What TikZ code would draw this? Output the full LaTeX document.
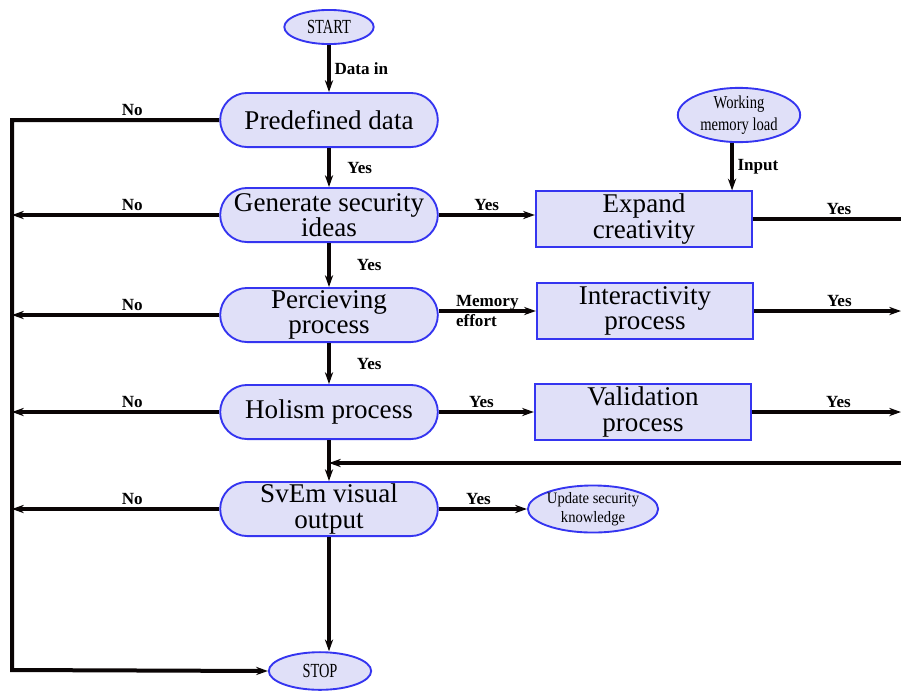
\documentclass[tikz,border=0pt]{standalone}
\usepackage{fontspec}
\setmainfont{Liberation Serif}
\usetikzlibrary{arrows.meta,shapes.geometric}
\definecolor{boxfill}{HTML}{E0E0F8}
\definecolor{boxline}{HTML}{3535F0}
\definecolor{flowline}{HTML}{0A0505}
\newcommand{\narrow}[2][0.72]{\scalebox{#1}[1]{#2}}

\begin{document}
\begin{tikzpicture}[x=0.85pt, y=-0.85pt,
  proc/.style={draw=boxline, fill=boxfill, line width=1.6pt, rounded corners=23pt,
    minimum width=185pt, minimum height=46pt, inner sep=0pt, align=center,
    font=\fontsize{23}{21.5}\selectfont},
  task/.style={draw=boxline, fill=boxfill, line width=1.6pt,
    minimum width=184pt, minimum height=47pt, inner sep=0pt, align=center,
    font=\fontsize{23}{21.5}\selectfont},
  term/.style={ellipse, draw=boxline, fill=boxfill, line width=1.6pt,
    inner sep=0pt, align=center},
  link/.style={draw=flowline, line width=3.4pt},
  flow/.style={link, -{Stealth[length=10pt,width=7pt]}},
  lbl/.style={font=\fontsize{14.5}{15}\selectfont\bfseries, inner sep=2pt}]
  \useasboundingbox (0,0) rectangle (902,692);

  % Main column
  \node[term, minimum width=76pt, minimum height=29pt,
    font=\fontsize{17}{17}\selectfont] (start) at (329,27) {\narrow{START}};
  \node[proc] (pre) at (329,120) {Predefined data};
  \node[proc] (gen) at (329,215) {Generate security\\ideas};
  \node[proc] (per) at (329,315) {Percieving\\process};
  \node[proc] (hol) at (329,412) {Holism process};
  \node[proc] (svem) at (329,509) {SvEm visual\\output};
  \node[term, minimum width=87pt, minimum height=32pt,
    font=\fontsize{17}{17}\selectfont] (stop) at (320,671) {\narrow{STOP}};

  % Side column
  \node[term, minimum width=104pt, minimum height=45pt,
    font=\fontsize{15.5}{18.5}\selectfont] (wml) at (739,115)
    {\narrow[0.8]{Working}\\\narrow[0.8]{memory load}};
  \node[task] (exp) at (644,219) {Expand\\creativity};
  \node[task] (int) at (645,311) {Interactivity\\process};
  \node[task] (val) at (643,412) {Validation\\process};
  \node[term, minimum width=103pt, minimum height=36pt,
    font=\fontsize{13.5}{16}\selectfont] (upd) at (593,509)
    {\narrow[0.92]{Update security}\\\narrow[0.92]{knowledge}};

  % Bus lines and open ends
  \coordinate (bustop) at (12,120);
  \coordinate (busbot) at (12,670);
  \coordinate (out1) at (901,219);
  \coordinate (out2) at (901,311);
  \coordinate (out3) at (901,412);
  \coordinate (back) at (901,463);
  \coordinate (join) at (329,463);

  % Downward flow
  \draw[flow] (start) -- node[lbl, right, xshift=1pt] {Data in} (pre);
  \draw[flow] (pre) -- node[lbl, right, xshift=12pt] {Yes} (gen);
  \draw[flow] (gen) -- node[lbl, right, xshift=20pt] {Yes} (per);
  \draw[flow] (per) -- node[lbl, right, xshift=20pt] {Yes} (hol);
  \draw[flow] (hol) -- (svem);
  \draw[flow] (svem.south) -- (svem.south |- stop.north);

  % No branches
  \draw[flow] (pre.west) -- node[lbl, above, pos=0.42] {No} (bustop)
    -- (busbot) -- (stop.west);
  \draw[flow] (gen.west) -- node[lbl, above, pos=0.42] {No} (gen.west -| bustop);
  \draw[flow] (per.west) -- node[lbl, above, pos=0.42] {No} (per.west -| bustop);
  \draw[flow] (hol.west) -- node[lbl, above, pos=0.42] {No} (hol.west -| bustop);
  \draw[flow] (svem.west) -- node[lbl, above, pos=0.42] {No} (svem.west -| bustop);

  % Side branches
  \draw[flow] (wml.256) -- node[lbl, right, xshift=1pt] {Input} (wml.256 |- exp.north);
  \draw[flow] (gen.east) -- node[lbl, above] {Yes} (gen.east -| exp.west);
  \draw[flow] (int.west -| per.east) -- node[lbl, align=left,
    font=\fontsize{14.5}{17}\selectfont\bfseries] {Memory\\effort} (int.west);
  \draw[flow] (hol) -- node[lbl, above, pos=0.45] {Yes} (val);
  \draw[flow] (svem) -- node[lbl, above, pos=0.45] {Yes} (upd);

  % Right-hand exits and return
  \draw[link] (exp.east) -- node[lbl, above, pos=0.58] {Yes} (out1);
  \draw[flow] (int.east) -- node[lbl, above, pos=0.58] {Yes} (out2);
  \draw[flow] (val.east) -- node[lbl, above, pos=0.58] {Yes} (out3);
  \draw[flow] (back) -- (join);
\end{tikzpicture}
\end{document}
